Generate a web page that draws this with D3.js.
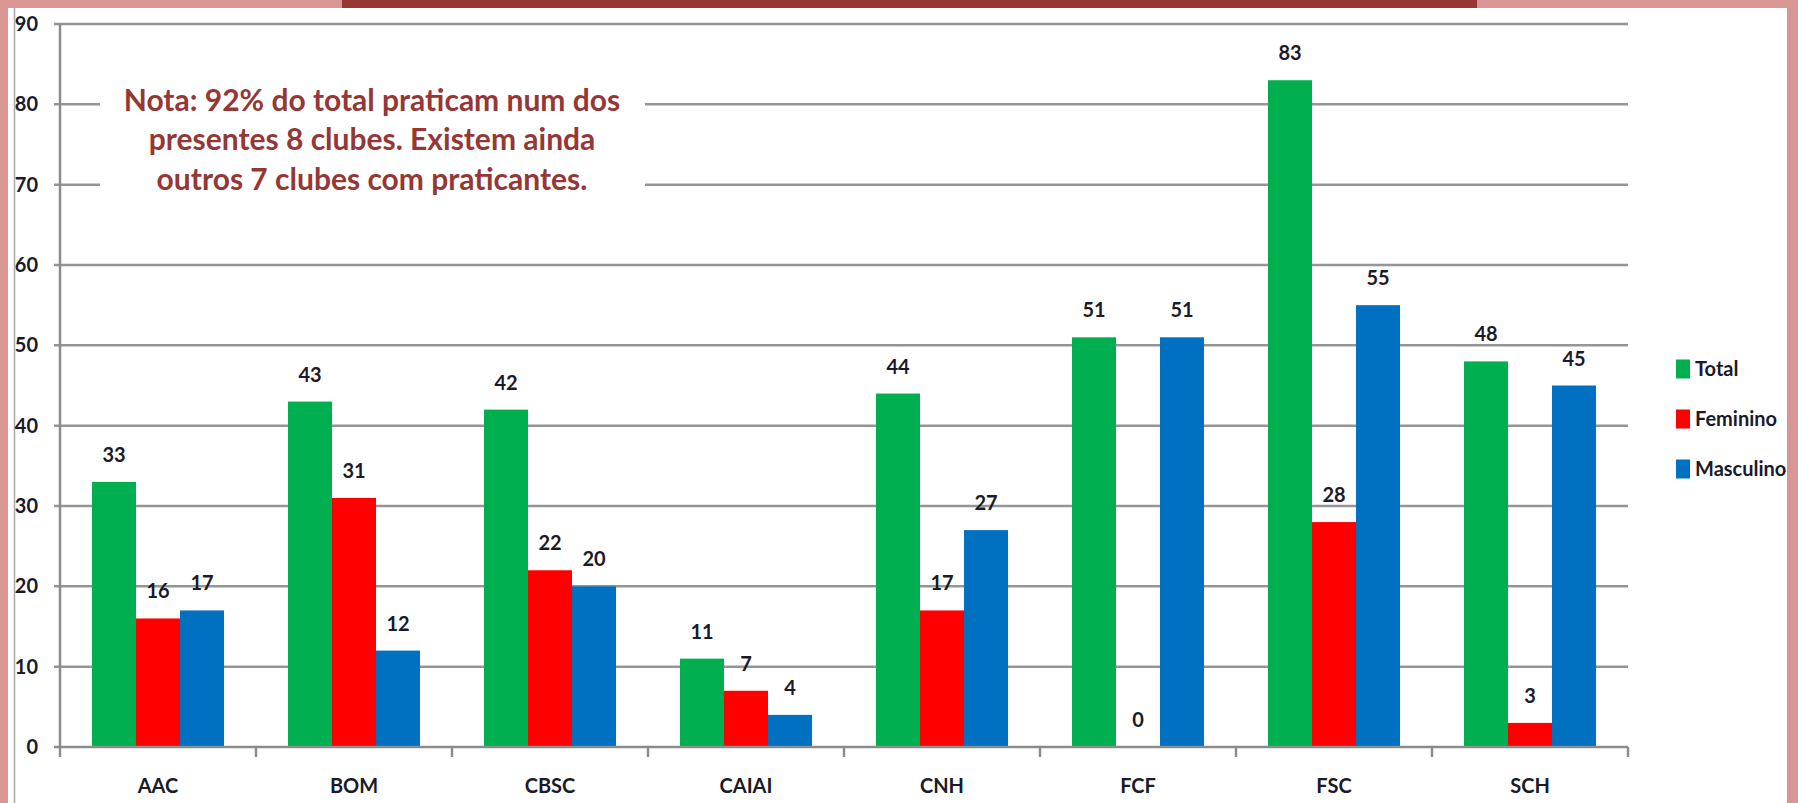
<!DOCTYPE html>
<html>
<head>
<meta charset="utf-8">
<script src="https://cdn.jsdelivr.net/npm/d3@7"></script>
<style>
  html, body { margin: 0; padding: 0; background: #fff; }
  svg { display: block; }
  text { font-family: Lato, "Open Sans", sans-serif; font-weight: bold; }
</style>
</head>
<body>
<svg id="chart" width="1798" height="803"></svg>
<script>
const categories = ["AAC", "BOM", "CBSC", "CAIAI", "CNH", "FCF", "FSC", "SCH"];
const seriesNames = ["Total", "Feminino", "Masculino"];
const totalValues = [33, 43, 42, 11, 44, 51, 83, 48];
const femininoValues = [16, 31, 22, 7, 17, 0, 28, 3];
const masculinoValues = [17, 12, 20, 4, 27, 51, 55, 45];
const yTicks = [0, 10, 20, 30, 40, 50, 60, 70, 80, 90];
const seriesColors = ["#00B050", "#FF0000", "#0070C0"];
const noteLines = [
  "Nota: 92% do total praticam num dos",
  "presentes 8 clubes. Existem ainda",
  "outros 7 clubes com praticantes."
];

const seriesValues = [totalValues, femininoValues, masculinoValues];
const data = categories.map((c, i) => ({
  cat: c,
  vals: seriesNames.map((s, j) => ({ key: s, value: seriesValues[j][i], color: seriesColors[j] }))
}));

const svg = d3.select("#chart");
const W = 1798, H = 803;

svg.append("line").attr("x1", 14.5).attr("x2", 14.5).attr("y1", 8).attr("y2", H)
  .attr("stroke", "#a8a8a8").attr("stroke-width", 1.5);

const plotLeft = 60, plotRight = 1628, plotTop = 24, plotBottom = 747;
const x0 = d3.scaleBand().domain(categories).range([plotLeft, plotRight]).paddingInner(0).paddingOuter(0);
const x1 = d3.scaleBand().domain(seriesNames).range([32, x0.bandwidth() - 32]).padding(0);
const y = d3.scaleLinear().domain([0, 90]).range([plotBottom, plotTop]);

// gridlines
svg.append("g").selectAll("line").data(yTicks.filter(d => d > 0)).join("line")
  .attr("x1", plotLeft - 6).attr("x2", plotRight)
  .attr("y1", d => y(d)).attr("y2", d => y(d))
  .attr("stroke", "#959595").attr("stroke-width", 2.5);

// y axis labels
svg.append("g").selectAll("text").data(yTicks).join("text")
  .attr("x", 38).attr("y", d => y(d)).attr("dy", "0.35em")
  .attr("text-anchor", "end").attr("font-size", 20).attr("fill", "#1a1a2a")
  .text(d => d);

// note box
svg.append("rect").attr("x", 100).attr("y", 58).attr("width", 545).attr("height", 142).attr("fill", "#fff");
svg.append("g").selectAll("text").data(noteLines).join("text")
  .attr("x", 372).attr("y", (d, i) => 100 + i * 39.5).attr("dy", "0.35em")
  .attr("text-anchor", "middle").attr("font-size", 30).attr("fill", "#953735")
  .text(d => d);

// bars
const groups = svg.append("g").selectAll("g").data(data).join("g")
  .attr("transform", d => `translate(${x0(d.cat)},0)`);
groups.selectAll("rect").data(d => d.vals).join("rect")
  .attr("x", d => x1(d.key)).attr("width", x1.bandwidth())
  .attr("y", d => y(d.value)).attr("height", d => plotBottom - y(d.value))
  .attr("fill", d => d.color);
groups.selectAll("text").data(d => d.vals).join("text")
  .attr("x", d => x1(d.key) + x1.bandwidth() / 2)
  .attr("y", d => y(d.value) - 27).attr("dy", "0.35em")
  .attr("text-anchor", "middle").attr("font-size", 20).attr("fill", "#1a1a2a")
  .text(d => d.value);

// axes lines
svg.append("line").attr("x1", plotLeft).attr("x2", plotLeft).attr("y1", plotTop).attr("y2", plotBottom)
  .attr("stroke", "#8c8c8c").attr("stroke-width", 2.5);
svg.append("line").attr("x1", plotLeft - 6).attr("x2", plotRight).attr("y1", plotBottom).attr("y2", plotBottom)
  .attr("stroke", "#8c8c8c").attr("stroke-width", 2.5);
const tickXs = categories.map(c => x0(c)).concat([plotRight]);
svg.append("g").selectAll("line").data(tickXs).join("line")
  .attr("x1", d => d).attr("x2", d => d).attr("y1", plotBottom).attr("y2", plotBottom + 10)
  .attr("stroke", "#8c8c8c").attr("stroke-width", 2.5);

// category labels
svg.append("g").selectAll("text").data(categories).join("text")
  .attr("x", d => x0(d) + x0.bandwidth() / 2).attr("y", 786).attr("dy", "0.35em")
  .attr("text-anchor", "middle").attr("font-size", 20).attr("fill", "#1a1a2a")
  .text(d => d);

// legend
const legend = svg.append("g").selectAll("g").data(seriesNames).join("g")
  .attr("transform", (d, i) => `translate(1676, ${369 + i * 50})`);
legend.append("rect").attr("x", 0).attr("y", -9.5).attr("width", 14).attr("height", 19)
  .attr("fill", (d, i) => seriesColors[i]);
legend.append("text").attr("x", 19).attr("y", 0).attr("dy", "0.35em")
  .attr("font-size", 20).attr("fill", "#1a1a2a").text(d => d);

// frame decorations (drawn last so they overlap)
svg.append("rect").attr("x", 0).attr("y", 0).attr("width", W).attr("height", 8).attr("fill", "#DA9694");
svg.append("rect").attr("x", 342).attr("y", 0).attr("width", 1135).attr("height", 8).attr("fill", "#953735");
svg.append("rect").attr("x", 0).attr("y", 0).attr("width", 8).attr("height", H).attr("fill", "#DA9694");
svg.append("rect").attr("x", 1787).attr("y", 0).attr("width", 11).attr("height", H).attr("fill", "#DA9694");
</script>
</body>
</html>
